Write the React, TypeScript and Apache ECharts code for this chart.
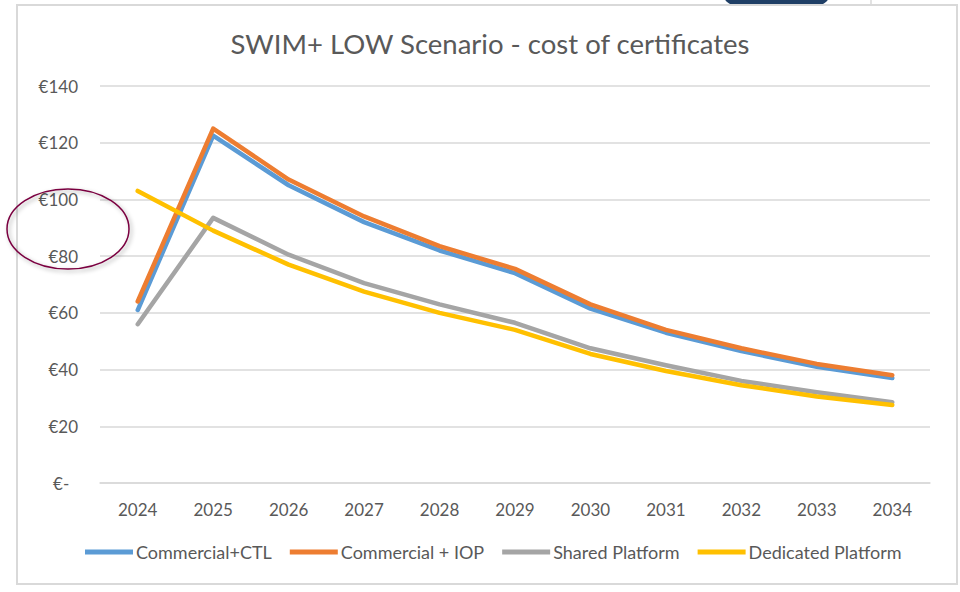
import React, { useEffect, useRef } from "react";
import * as echarts from "echarts";

const years = ["2024", "2025", "2026", "2027", "2028", "2029", "2030", "2031", "2032", "2033", "2034"];
const commercialCTL = [61, 122.5, 105, 92, 82, 74, 61.5, 53, 46.5, 41, 37];
const commercialIOP = [64, 125, 107, 94, 83.5, 75.5, 63, 54, 47.5, 42, 38];
const sharedPlatform = [56, 93.5, 80.5, 70.5, 63, 56.5, 47.5, 41.5, 36, 32, 28.5];
const dedicatedPlatform = [103, 89, 77, 67.5, 60, 54, 45.5, 39.5, 34.5, 30.5, 27.5];
const yTicks = { min: 0, max: 140, interval: 20 };

const FONT = "Lato, 'Open Sans', sans-serif";
const TXT = "#595959";

export default function App() {
  const ref = useRef<HTMLDivElement>(null);
  useEffect(() => {
    if (!ref.current) return;
    const chart = echarts.init(ref.current, undefined, { renderer: "svg" });
    const mk = (name: string, data: number[], color: string) => ({
      name,
      type: "line",
      data,
      symbol: "none",
      smooth: false,
      lineStyle: { color, width: 4.5, cap: "round", join: "round" },
      itemStyle: { color },
    });
    chart.setOption({
      animation: false,
      backgroundColor: "#ffffff",
      textStyle: { fontFamily: FONT },
      title: {
        text: "SWIM+ LOW Scenario - cost of certificates",
        left: 485,
        top: 24,
        textAlign: "center",
        textStyle: { fontFamily: FONT, fontSize: 27.5, fontWeight: "normal", color: TXT },
      },
      legend: {
        bottom: 26,
        left: 80,
        itemWidth: 48,
        itemHeight: 5,
        itemGap: 18,
        icon: "rect",
        textStyle: { fontFamily: FONT, fontSize: 18, color: TXT, padding: [0, 0, 0, -2] },
        data: ["Commercial+CTL", "Commercial + IOP", "Shared Platform", "Dedicated Platform"],
      },
      grid: { left: 100, right: 30, top: 86, bottom: 109, containLabel: false },
      xAxis: {
        type: "category",
        data: years,
        boundaryGap: true,
        axisLine: { show: true, lineStyle: { color: "#d9d9d9", width: 1.5 } },
        axisTick: { show: false },
        axisLabel: { color: TXT, fontFamily: FONT, fontSize: 17, margin: 18 },
      },
      yAxis: {
        type: "value",
        min: yTicks.min,
        max: yTicks.max,
        interval: yTicks.interval,
        axisLine: { show: false },
        axisTick: { show: false },
        splitLine: { lineStyle: { color: "#d9d9d9", width: 1.5 } },
        axisLabel: {
          color: TXT,
          fontFamily: FONT,
          fontSize: 17,
          margin: 22,
          formatter: (v: number) => (v === 0 ? "€-  " : "€" + v),
        },
      },
      series: [
        mk("Commercial+CTL", commercialCTL, "#5b9bd5"),
        mk("Commercial + IOP", commercialIOP, "#ed7d31"),
        mk("Shared Platform", sharedPlatform, "#a5a5a5"),
        mk("Dedicated Platform", dedicatedPlatform, "#ffc000"),
      ],
      graphic: [
        {
          type: "rect",
          z: -10,
          silent: true,
          shape: { x: 723, y: -20, width: 107, height: 25, r: 12 },
          style: { fill: "#1f3f66" },
        },
        {
          type: "line",
          z: -10,
          silent: true,
          shape: { x1: 871, y1: 0, x2: 871, y2: 5 },
          style: { stroke: "#d9d9d9", lineWidth: 1.5 },
        },
        {
          type: "rect",
          z: -5,
          silent: true,
          shape: { x: 17, y: 5, width: 940, height: 579 },
          style: { fill: "#ffffff", stroke: "#d9d9d9", lineWidth: 2 },
        },
        {
          type: "ellipse",
          z: 100,
          silent: true,
          shape: { cx: 68, cy: 229, rx: 61, ry: 40 },
          style: {
            fill: "none",
            stroke: "#7a0040",
            lineWidth: 1.5,
            shadowBlur: 4,
            shadowColor: "rgba(0,0,0,0.35)",
            shadowOffsetX: 2,
            shadowOffsetY: 2,
          },
        },
      ],
    });
    return () => chart.dispose();
  }, []);
  return (
    <div
      ref={ref}
      style={{ position: "fixed", left: 0, top: 0, width: 960, height: 592, background: "#fff" }}
    />
  );
}
